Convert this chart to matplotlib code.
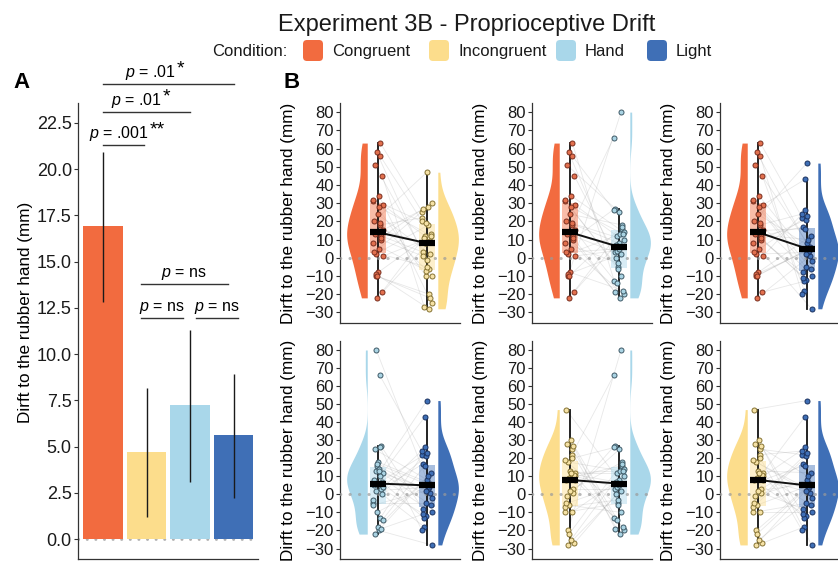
import numpy as np
import matplotlib.pyplot as plt
from matplotlib.patches import FancyBboxPatch, Rectangle

plt.rcParams['font.family'] = ['Liberation Sans', 'DejaVu Sans']
plt.rcParams['mathtext.fontset'] = 'custom'
plt.rcParams['mathtext.it'] = 'Liberation Sans:italic'
plt.rcParams['mathtext.rm'] = 'Liberation Sans'

W, H = 838, 563

CONDITIONS = ['Congruent', 'Incongruent', 'Hand', 'Light']
FILL = ['#F26B3F', '#FCDD8C', '#A9D7EA', '#3F6FB6']
EDGE = ['#7A2E1E', '#857232', '#3E5966', '#1B325F']
PT_FILL = ['#E2704E', '#F6E2A6', '#A9D3E3', '#3F6FB6']

# panel A: means and interval ends
BAR_MEANS = [16.93, 4.7, 7.25, 5.6]
CI_LOW = [12.8, 1.2, 3.1, 2.2]
CI_HIGH = [20.95, 8.15, 11.3, 8.95]

# panel B: per-participant drift (mm), same participant order in every list
congruent = [14, 63, -10, 29, 5, 51, 12, -22, 31, 18, 2, 45, -8, 20, 10, 58,
             1, 34, 13, -19, 24, 8, 56, -9, 15, 28, 3, 11, -10, 32, 19]
incongruent = [8, 25, -20, 12, 30, -1, 3, 9, -10, 22, 18, -27, 13, 47, 1, -6,
               10, -25, 28, 11, 2, -7, 20, -28, 8, 12, -5, 27, -22, 19, -10]
hand = [6, -13, 80, 12, -20, 25, 3, 16, -5, 66, 13, 0, -18, 8, 27, -10,
        4, 14, -22, 7, 18, -3, 26, 2, -14, 13, 5, -19, 17, -6, 10]
light = [-12, 22, 5, 43, -28, 8, 17, 1, -5, 24, 3, -18, 12, 52, -8, 5,
         26, -2, 10, -13, 6, 21, -20, 4, 16, -6, 23, -11, 5, 2, -10]
DRIFT = [congruent, incongruent, hand, light]

PAIRS = [(0, 1), (0, 2), (0, 3), (2, 3), (1, 2), (1, 3)]

SIG = [  # (from bar, to bar, line height, label, stars, label right edge)
    (0, 3, 24.6, '.01', '*', 1.68),
    (0, 2, 23.09, '.01', '*', 1.36),
    (0, 0.94, 21.31, '.001', '**', 1.06),
    (0.87, 2.87, 13.79, 'ns', '', None),
    (0.87, 1.84, 11.95, 'ns', '', None),
    (2.14, 3.1, 11.95, 'ns', '', None),
]

YLABEL = 'Dirft to the rubber hand (mm)'
SPINE = '#333333'


def rect(l, t, w, h):
    return [l / W, 1 - (t + h) / H, w / W, h / H]


def style(ax, size):
    for s in ['top', 'right']:
        ax.spines[s].set_visible(False)
    for s in ['left', 'bottom']:
        ax.spines[s].set_color(SPINE)
        ax.spines[s].set_linewidth(0.9)
    ax.set_xticks([])
    ax.tick_params(axis='y', length=3, width=0.8, color=SPINE, labelsize=size,
                   labelcolor='#1a1a1a', pad=1.5)


def kde(vals, grid):
    v = np.asarray(vals, float)
    q1, q3 = np.percentile(v, [25, 75])
    bw = 0.9 * min(v.std(ddof=1), (q3 - q1) / 1.34) * len(v) ** -0.2
    d = np.exp(-0.5 * ((grid[:, None] - v[None, :]) / bw) ** 2).sum(1)
    return d / d.max()


def jitter(n, shift):
    return ((np.arange(n) * 0.6180339887 + shift) % 1 - 0.5) * 0.22


fig = plt.figure(figsize=(W / 100, H / 100), dpi=100)

# title, legend, panel letters drawn in pixel space
bg = fig.add_axes([0, 0, 1, 1])
bg.set_xlim(0, W)
bg.set_ylim(H, 0)
bg.axis('off')
bg.text(467, 31, 'Experiment 3B - Proprioceptive Drift', fontsize=17,
        ha='center', va='baseline', color='#1a1a1a')
bg.text(212, 56, 'Condition:', fontsize=12, va='baseline', color='#1a1a1a')
key_x = [303, 429, 556, 647]
for kx, name, c in zip(key_x, CONDITIONS, FILL):
    bg.add_patch(FancyBboxPatch((kx, 40), 20, 21, boxstyle='round,pad=0,rounding_size=4',
                                facecolor=c, edgecolor='none'))
    bg.text(kx + 29, 56, name, fontsize=12, va='baseline', color='#1a1a1a')
bg.text(13, 88, 'A', fontsize=16, fontweight='bold', va='baseline')
bg.text(283, 88, 'B', fontsize=16, fontweight='bold', va='baseline')

# ---- panel A ----
axA = fig.add_axes(rect(78, 103, 180, 456))
xs = np.arange(len(CONDITIONS))
axA.axhline(0, color='#b0b0b0', ls=(0, (0.1, 3)), lw=2, dash_capstyle='round', zorder=0)
axA.bar(xs, BAR_MEANS, width=0.9, color=FILL, zorder=1)
axA.vlines(xs, CI_LOW, CI_HIGH, color='#1a1a1a', lw=1, zorder=2)
for x0, x1, y, val, stars, xr in SIG:
    axA.plot([x0, x1], [y, y], color='#333333', lw=1, clip_on=False)
    lab = r'$p$ = ' + val
    if xr is None:
        axA.annotate(lab, ((x0 + x1) / 2, y), xytext=(0, 1.5), textcoords='offset points',
                     ha='center', va='bottom', fontsize=11.5, annotation_clip=False)
    else:
        axA.annotate(lab, (xr, y), xytext=(0, 1.5), textcoords='offset points',
                     ha='right', va='bottom', fontsize=11.5, annotation_clip=False)
        axA.annotate(stars, (xr, y), xytext=(0.3, 4.5), textcoords='offset points',
                     ha='left', va='bottom', fontsize=14, annotation_clip=False)
axA.set_xlim(-0.575, 3.563)
axA.set_ylim(-1.08, 23.58)
axA.set_yticks(np.arange(0, 23, 2.5))
axA.set_yticklabels([f'{t:.1f}' for t in np.arange(0, 23, 2.5)])
style(axA, 13)
axA.set_ylabel(YLABEL, fontsize=12.3)
axA.yaxis.set_label_coords(-0.25, 0.54)

# ---- panel B ----
lefts = [340, 532, 720]
tops = [(103, 220), (341, 218)]
for k, (a, b) in enumerate(PAIRS):
    t, h = tops[k // 3]
    ax = fig.add_axes(rect(lefts[k % 3], t, 120, h))
    va, vb = np.array(DRIFT[a], float), np.array(DRIFT[b], float)
    ja, jb = jitter(len(va), 0.1), jitter(len(vb), 0.45)

    for i in range(len(va)):
        ax.plot([1 + ja[i], 2 + jb[i]], [va[i], vb[i]], color='#8c8c8c',
                alpha=0.2, lw=0.6, zorder=2)

    meds = []
    for x, v, ci, jj, side in [(1, va, a, ja, -1), (2, vb, b, jb, 1)]:
        grid = np.linspace(v.min(), v.max(), 300)
        d = kde(v, grid) * 0.42
        x0 = x + side * 0.22
        if side < 0:
            ax.fill_betweenx(grid, x0 - d, x0, color=FILL[ci], lw=0, zorder=1)
        else:
            ax.fill_betweenx(grid, x0, x0 + d, color=FILL[ci], lw=0, zorder=1)
        q1, med, q3 = np.percentile(v, [25, 50, 75])
        iqr = q3 - q1
        lo = v[v >= q1 - 1.5 * iqr].min()
        hi = v[v <= q3 + 1.5 * iqr].max()
        ax.add_patch(Rectangle((x - 0.155, q1), 0.31, q3 - q1, facecolor=FILL[ci],
                               alpha=0.45, lw=0, zorder=3))
        ax.plot([x, x], [lo, hi], color='#111111', lw=1.3, zorder=4)
        ax.scatter(x + jj, v, s=13, facecolor=PT_FILL[ci], edgecolor=EDGE[ci],
                   linewidth=0.7, zorder=5)
        ax.plot([x - 0.16, x + 0.16], [med, med], color='black', lw=4.5,
                solid_capstyle='butt', zorder=7)
        meds.append(med)
    ax.plot([1, 2], meds, color='#111111', lw=1.4, zorder=6)
    ax.axhline(0, color='#9a9a9a', alpha=0.7, ls=(0, (0.1, 3)), lw=2.2,
               dash_capstyle='round', zorder=4.5)

    ax.set_xlim(0.224, 2.673)
    ax.set_ylim(-35.8, 85)
    ax.set_yticks(np.arange(-30, 81, 10))
    style(ax, 12)
    ax.set_ylabel(YLABEL, fontsize=12.3)
    ax.yaxis.set_label_coords(-0.37, 0.5)

fig.savefig('out.png', dpi=100)
